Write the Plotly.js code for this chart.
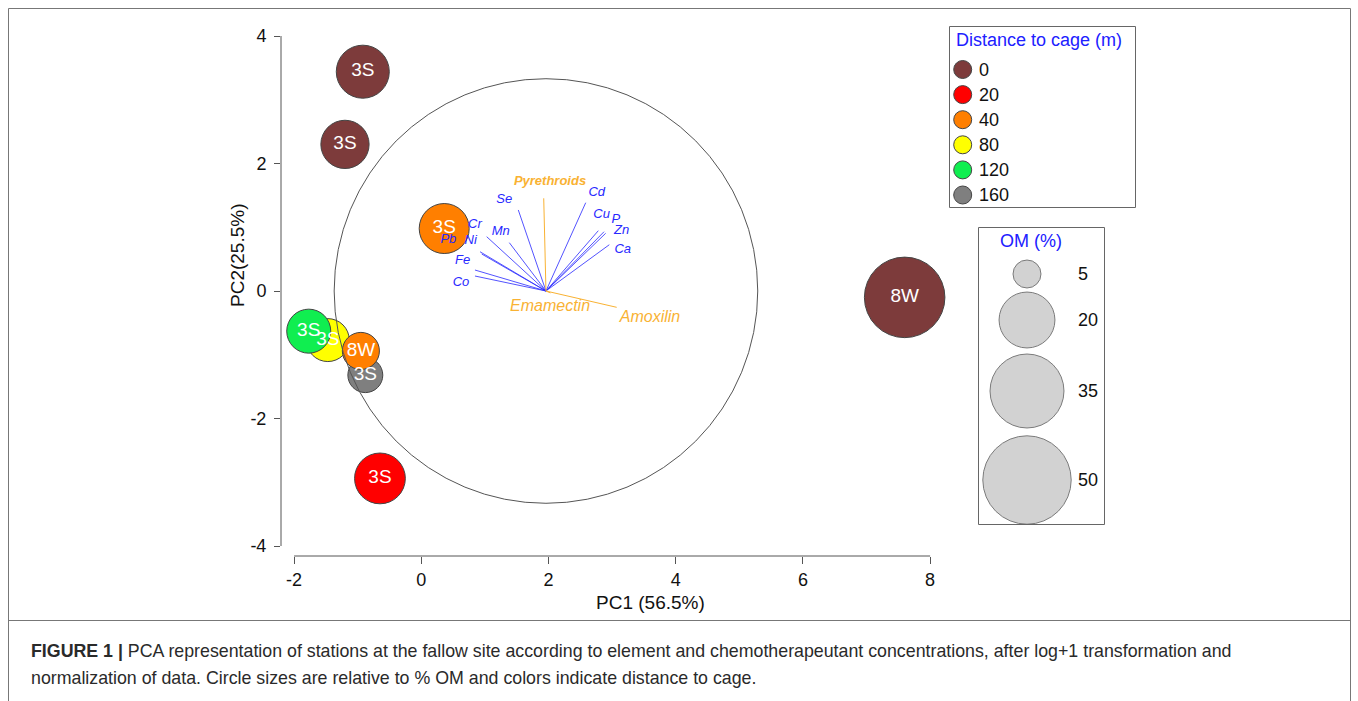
<!DOCTYPE html>
<html><head><meta charset="utf-8">
<script src="https://cdn.plot.ly/plotly-3.0.1.min.js"></script>
<style>html,body{margin:0;padding:0;background:#fff}#chart{width:1358px;height:701px}</style>
</head><body><div id="chart"></div>
<script>
// ---------------- data ----------------
const stationLabels   = ['3S','3S','3S','3S','8W','3S','3S','3S','8W'];
const stationPC1      = [-0.92,-1.20,-0.65,0.36,7.60,-1.47,-1.77,-0.88,-0.95];
const stationPC2      = [3.44, 2.30,-2.94,0.98,-0.10,-0.77,-0.63,-1.32,-0.94];
const stationOM       = [18.0,14.9,16.5,16.0,41.5,11.8,12.4,7.8,8.8];
const stationDistance = [0,0,20,40,0,80,120,160,40];

const distanceLevels = [0,20,40,80,120,160];
const distanceColors = ['#7D3B3B','#FF0000','#FF7F00','#FFFF00','#10EE50','#7F7F7F'];
const omLegendValues = [5,20,35,50];

const loadingOrigin = [1.96, 0];
const corCircleRadius = 3.33;

const elementNames  = ['Se','Cd','Cu','P','Zn','Ca','Mn','Cr','Ni','Pb','Fe','Co'];
const elementEndX   = [1.525,2.585,2.783,2.873,2.899,2.956,1.384,1.028,0.923,0.950,0.844,0.844];
const elementEndY   = [1.271,1.385,0.946,0.930,0.905,0.726,0.758,0.852,0.616,0.580,0.329,0.235];
const elementLabelX = [1.305,2.758,2.836,3.057,3.151,3.167,1.248,0.844,0.777,0.425,0.651,0.624];
const elementLabelY = [1.438,1.542,1.192,1.114,0.941,0.654,0.930,1.035,0.784,0.800,0.475,0.136];

const chemNames  = ['Pyrethroids','Emamectin','Amoxilin'];
const chemEndX   = [1.925,2.030,3.072];
const chemEndY   = [1.454,-0.030,-0.256];
const chemLabelX = [2.024,2.024,3.596];
const chemLabelY = [1.715,-0.250,-0.428];

const xTickVals = [-2,0,2,4,6,8];
const xTickText = ['-2','0','2','4','6','8'];
const yTickVals = [-4,-2,0,2,4];
const yTickText = ['-4','-2','0','2','4'];

// ---------------- layout geometry (pixels) ----------------
const FONT = 'Liberation Sans, Arial, sans-serif';
const L = 281, T = 20, R = 1140, B = 556;
const W = R - L, H = B - T;
const X0PX = 421.3, XSCALE = 63.6, Y0PX = 291, YSCALE = 63.75;
const xRange = [(L - X0PX) / XSCALE, (R - X0PX) / XSCALE];
const yRange = [(Y0PX - B) / YSCALE, (Y0PX - T) / YSCALE];
const px = x => (x - L) / W;
const py = y => (B - y) / H;
const BUBBLE_K = 12.5;                       // diameter = K*sqrt(OM)
const SIZEREF = 2 / (BUBBLE_K * BUBBLE_K);   // plotly area mode

const colorOf = d => distanceColors[distanceLevels.indexOf(d)];

// ---------------- traces ----------------
const traces = [];

// station bubbles
traces.push({
  type: 'scatter', mode: 'markers', x: stationPC1, y: stationPC2,
  marker: {size: stationOM, sizemode: 'area', sizeref: SIZEREF,
           color: stationDistance.map(colorOf), opacity: 1,
           line: {color: '#444', width: 1}},
  cliponaxis: false, hoverinfo: 'skip', showlegend: false
});

// loading vectors
function segs(ex, ey) {
  const xs = [], ys = [];
  ex.forEach((v, i) => { xs.push(loadingOrigin[0], v, null); ys.push(loadingOrigin[1], ey[i], null); });
  return {xs, ys};
}
const es = segs(elementEndX, elementEndY);
traces.push({type: 'scatter', mode: 'lines', x: es.xs, y: es.ys,
  line: {color: 'rgba(40,40,255,0.8)', width: 1}, hoverinfo: 'skip', showlegend: false});
const cs = segs(chemEndX, chemEndY);
traces.push({type: 'scatter', mode: 'lines', x: cs.xs, y: cs.ys,
  line: {color: '#F9B233', width: 1}, hoverinfo: 'skip', showlegend: false});

// station labels (on top of all bubbles)
traces.push({type: 'scatter', mode: 'text', x: stationPC1, y: stationPC2, text: stationLabels,
  textposition: 'middle center', textfont: {family: FONT, size: 19, color: '#FFFFFF'},
  cliponaxis: false, hoverinfo: 'skip', showlegend: false});

// element labels
traces.push({type: 'scatter', mode: 'text', x: elementLabelX, y: elementLabelY, text: elementNames,
  textposition: 'middle center', textfont: {family: FONT, size: 13, color: '#2828FF', style: 'italic'},
  cliponaxis: false, hoverinfo: 'skip', showlegend: false});
// chemotherapeutant labels
traces.push({type: 'scatter', mode: 'text', x: chemLabelX.slice(0,1), y: chemLabelY.slice(0,1), text: chemNames.slice(0,1),
  textposition: 'middle center', textfont: {family: FONT, size: 13, color: '#F9B233', style: 'italic', weight: 'bold'},
  cliponaxis: false, hoverinfo: 'skip', showlegend: false});
traces.push({type: 'scatter', mode: 'text', x: chemLabelX.slice(1), y: chemLabelY.slice(1), text: chemNames.slice(1),
  textposition: 'middle center', textfont: {family: FONT, size: 16, color: '#F9B233', style: 'italic'},
  cliponaxis: false, hoverinfo: 'skip', showlegend: false});

// legend 1: distance to cage (pixel axes x2/y2)
const LEG1_CX = 962.7, LEG1_TX = 977, LEG1_Y0 = 69.5, LEG1_STEP = 25.1;
const leg1Y = distanceLevels.map((d, i) => LEG1_Y0 + i * LEG1_STEP);
traces.push({type: 'scatter', mode: 'markers', xaxis: 'x2', yaxis: 'y2',
  x: distanceLevels.map(() => LEG1_CX), y: leg1Y,
  marker: {size: 18, color: distanceColors, line: {color: '#444', width: 1}},
  cliponaxis: false, hoverinfo: 'skip', showlegend: false});

// legend 2: OM (%) bubble sizes
const LEG2_CX = 1027, LEG2_TX = 1076;
const leg2Y = [274, 320, 391, 480];
traces.push({type: 'scatter', mode: 'markers', xaxis: 'x2', yaxis: 'y2',
  x: omLegendValues.map(() => LEG2_CX), y: leg2Y,
  marker: {size: omLegendValues, sizemode: 'area', sizeref: SIZEREF, color: '#C0C0C0',
           line: {color: '#444', width: 1}},
  cliponaxis: false, hoverinfo: 'skip', showlegend: false});

// ---------------- annotations & shapes ----------------
const annotations = [];
const legFont = {family: FONT, size: 18, color: '#111'};
distanceLevels.forEach((d, i) => annotations.push({xref: 'x2', yref: 'y2', x: LEG1_TX, y: leg1Y[i],
  text: String(d), showarrow: false, xanchor: 'left', yanchor: 'middle', font: legFont}));
omLegendValues.forEach((v, i) => annotations.push({xref: 'x2', yref: 'y2', x: LEG2_TX, y: leg2Y[i],
  text: String(v), showarrow: false, xanchor: 'left', yanchor: 'middle', font: legFont}));
annotations.push({xref: 'x2', yref: 'y2', x: 954, y: 39.5, text: 'Distance to cage (m)', showarrow: false,
  xanchor: 'left', yanchor: 'middle', font: {family: FONT, size: 18, color: '#2020FF'}});
annotations.push({xref: 'x2', yref: 'y2', x: 1031, y: 241, text: 'OM (%)', showarrow: false,
  xanchor: 'center', yanchor: 'middle', font: {family: FONT, size: 18, color: '#2020FF'}});
// axis titles
annotations.push({xref: 'paper', yref: 'paper', x: px(650), y: py(602), text: 'PC1 (56.5%)', showarrow: false,
  xanchor: 'center', yanchor: 'middle', font: {family: FONT, size: 19, color: '#111'}});
annotations.push({xref: 'paper', yref: 'paper', x: px(237), y: py(255), text: 'PC2(25.5%)', showarrow: false,
  textangle: -90, xanchor: 'center', yanchor: 'middle', font: {family: FONT, size: 19, color: '#111'}});
// caption
annotations.push({xref: 'paper', yref: 'paper', x: px(29), y: py(651), xanchor: 'left', yanchor: 'middle', showarrow: false,
  text: '<b>FIGURE 1 |</b> PCA representation of stations at the fallow site according to element and chemotherapeutant concentrations, after log+1 transformation and',
  font: {family: FONT, size: 17.8, color: '#2a2a2a'}});
annotations.push({xref: 'paper', yref: 'paper', x: px(29), y: py(678), xanchor: 'left', yanchor: 'middle', showarrow: false,
  text: 'normalization of data. Circle sizes are relative to % OM and colors indicate distance to cage.',
  font: {family: FONT, size: 17.8, color: '#2a2a2a'}});

const shapes = [
  // correlation circle
  {type: 'circle', xref: 'x', yref: 'y', layer: 'above',
   x0: loadingOrigin[0] - corCircleRadius, x1: loadingOrigin[0] + corCircleRadius,
   y0: loadingOrigin[1] - corCircleRadius, y1: loadingOrigin[1] + corCircleRadius,
   line: {color: '#555', width: 1}},
  // axis lines spanning the tick range
  {type: 'line', xref: 'x', yref: 'paper', x0: xTickVals[0], x1: xTickVals[xTickVals.length-1], y0: 0, y1: 0,
   line: {color: '#555', width: 1}},
  {type: 'line', xref: 'paper', yref: 'y', x0: 0, x1: 0, y0: yTickVals[0], y1: yTickVals[yTickVals.length-1],
   line: {color: '#555', width: 1}},
  // legend boxes
  {type: 'rect', xref: 'x2', yref: 'y2', x0: 949.5, x1: 1135.5, y0: 26.5, y1: 207.5, line: {color: '#666', width: 1}},
  {type: 'rect', xref: 'x2', yref: 'y2', x0: 978.5, x1: 1104.5, y0: 227.5, y1: 524.5, line: {color: '#666', width: 1}},
  // figure frame and caption separator
  {type: 'rect', xref: 'paper', yref: 'paper', x0: px(8.5), x1: px(1350.5), y0: py(8.5), y1: py(740),
   line: {color: '#777', width: 1}},
  {type: 'line', xref: 'paper', yref: 'paper', x0: px(8.5), x1: px(1350.5), y0: py(620.5), y1: py(620.5),
   line: {color: '#777', width: 1}}
];

const layout = {
  width: 1358, height: 701,
  margin: {l: L, r: 1358 - R, t: T, b: 701 - B, pad: 0},
  paper_bgcolor: '#fff', plot_bgcolor: 'rgba(0,0,0,0)',
  font: {family: FONT, color: '#111'},
  showlegend: false,
  xaxis: {range: xRange, domain: [0, 1], tickvals: xTickVals, ticktext: xTickText,
          ticks: 'outside', ticklen: 7, tickcolor: '#555', tickwidth: 1,
          showgrid: false, zeroline: false, showline: false,
          tickfont: {family: FONT, size: 18, color: '#111'}, ticklabelstandoff: 0},
  yaxis: {range: yRange, domain: [0, 1], tickvals: yTickVals, ticktext: yTickText,
          ticks: 'outside', ticklen: 6, tickcolor: '#555', tickwidth: 1,
          showgrid: false, zeroline: false, showline: false,
          tickfont: {family: FONT, size: 18, color: '#111'}, ticklabelstandoff: 4},
  xaxis2: {overlaying: 'x', anchor: 'y2', range: [L, R], visible: false, showgrid: false, zeroline: false},
  yaxis2: {overlaying: 'y', anchor: 'x2', range: [B, T], visible: false, showgrid: false, zeroline: false},
  annotations: annotations,
  shapes: shapes
};

Plotly.newPlot('chart', traces, layout, {staticPlot: true, displayModeBar: false});
</script>
</body></html>
